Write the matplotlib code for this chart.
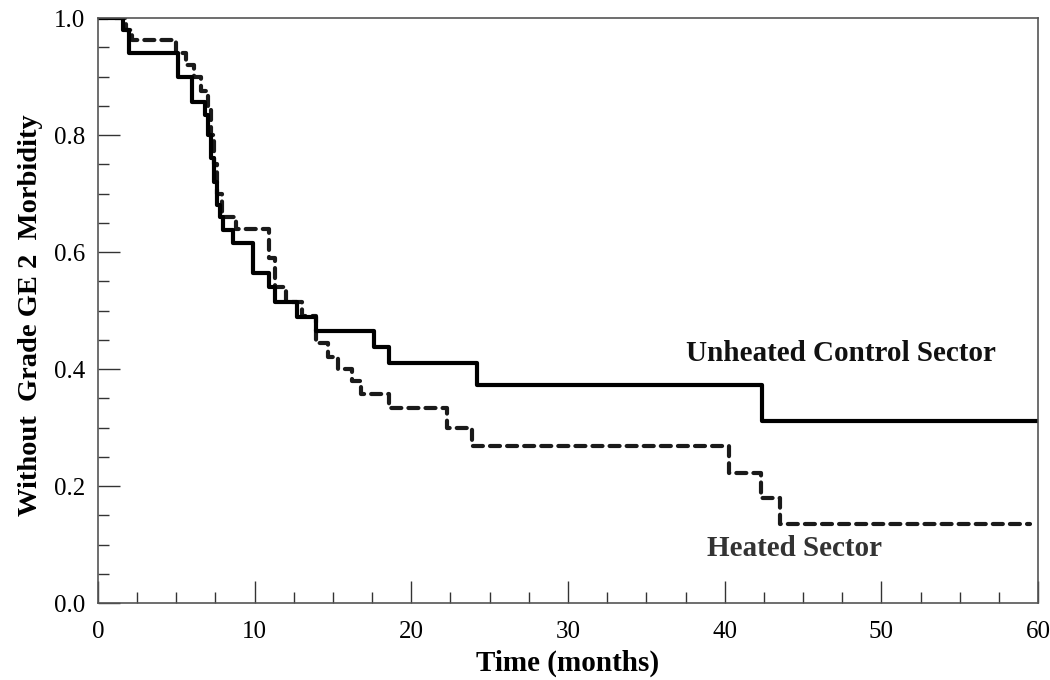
import matplotlib.pyplot as plt
from matplotlib.ticker import MultipleLocator

# Kaplan-Meier style step data (value holds from time t until next t)
unheated_t = [0, 1.6, 2.0, 5.1, 6.0, 6.8, 7.0, 7.2, 7.4, 7.6, 7.8, 8.0, 8.6, 9.9,
              10.9, 11.3, 12.7, 13.9, 17.6, 18.6, 24.2, 42.4, 60]
unheated_s = [1.0, 0.98, 0.94, 0.90, 0.857, 0.834, 0.80, 0.76, 0.72, 0.68, 0.66, 0.638,
              0.615, 0.564, 0.54, 0.515, 0.489, 0.465, 0.438, 0.41, 0.373, 0.311, 0.311]

heated_t = [0, 1.8, 2.2, 5.0, 5.6, 6.1, 6.6, 7.0, 7.2, 7.4, 7.6, 7.9, 8.8, 10.9,
            11.3, 12.0, 13.0, 13.9, 14.7, 15.3, 16.2, 16.8, 18.6, 22.3, 23.9,
            40.3, 42.3, 43.5, 59.5]
heated_s = [1.0, 0.98, 0.962, 0.94, 0.92, 0.90, 0.875, 0.85, 0.80, 0.75, 0.70, 0.66,
            0.64, 0.59, 0.54, 0.515, 0.49, 0.445, 0.42, 0.40, 0.38, 0.357, 0.333,
            0.30, 0.268, 0.222, 0.179, 0.135, 0.135]

plt.rcParams['font.family'] = ['Liberation Serif', 'DejaVu Serif']

fig = plt.figure(figsize=(10.5, 6.8), dpi=100)
ax = fig.add_axes([0.0933, 0.1132, 0.8953, 0.8603])

ax.step(heated_t, heated_s, where='post', color='#1a1a1a', lw=3,
        linestyle=(0, (2.4, 1.7)), dash_capstyle='round')
ax.step(unheated_t, unheated_s, where='post', color='black', lw=3)

ax.text(37.5, 0.427, 'Unheated Control Sector', fontsize=21, fontweight='bold',
        va='center', ha='left', color='#111111')
ax.text(38.9, 0.094, 'Heated Sector', fontsize=21, fontweight='bold',
        va='center', ha='left', color='#333333')

ax.set_xlim(0, 60)
ax.set_ylim(0, 1.0)
ax.xaxis.set_major_locator(MultipleLocator(10))
ax.xaxis.set_minor_locator(MultipleLocator(2.5))
ax.yaxis.set_major_locator(MultipleLocator(0.2))
ax.yaxis.set_minor_locator(MultipleLocator(0.05))
ax.yaxis.set_major_formatter(plt.FuncFormatter(lambda v, p: '%.1f' % v))
ax.tick_params(which='major', direction='in', length=16, width=1, color='#333333',
               labelsize=18)
ax.tick_params(axis='x', which='major', pad=13)
ax.tick_params(axis='y', which='major', pad=9)
ax.tick_params(which='minor', direction='in', length=8, width=1, color='#333333')

for s in ax.spines.values():
    s.set_color('#555555')
    s.set_linewidth(1.2)

ax.set_xlabel('Time (months)', fontsize=21, fontweight='bold', labelpad=5)
ax.set_ylabel('Without  Grade GE 2  Morbidity', fontsize=20.5, fontweight='bold')
ax.yaxis.set_label_coords(-0.059, 0.492)

fig.savefig('out.png', dpi=100)
